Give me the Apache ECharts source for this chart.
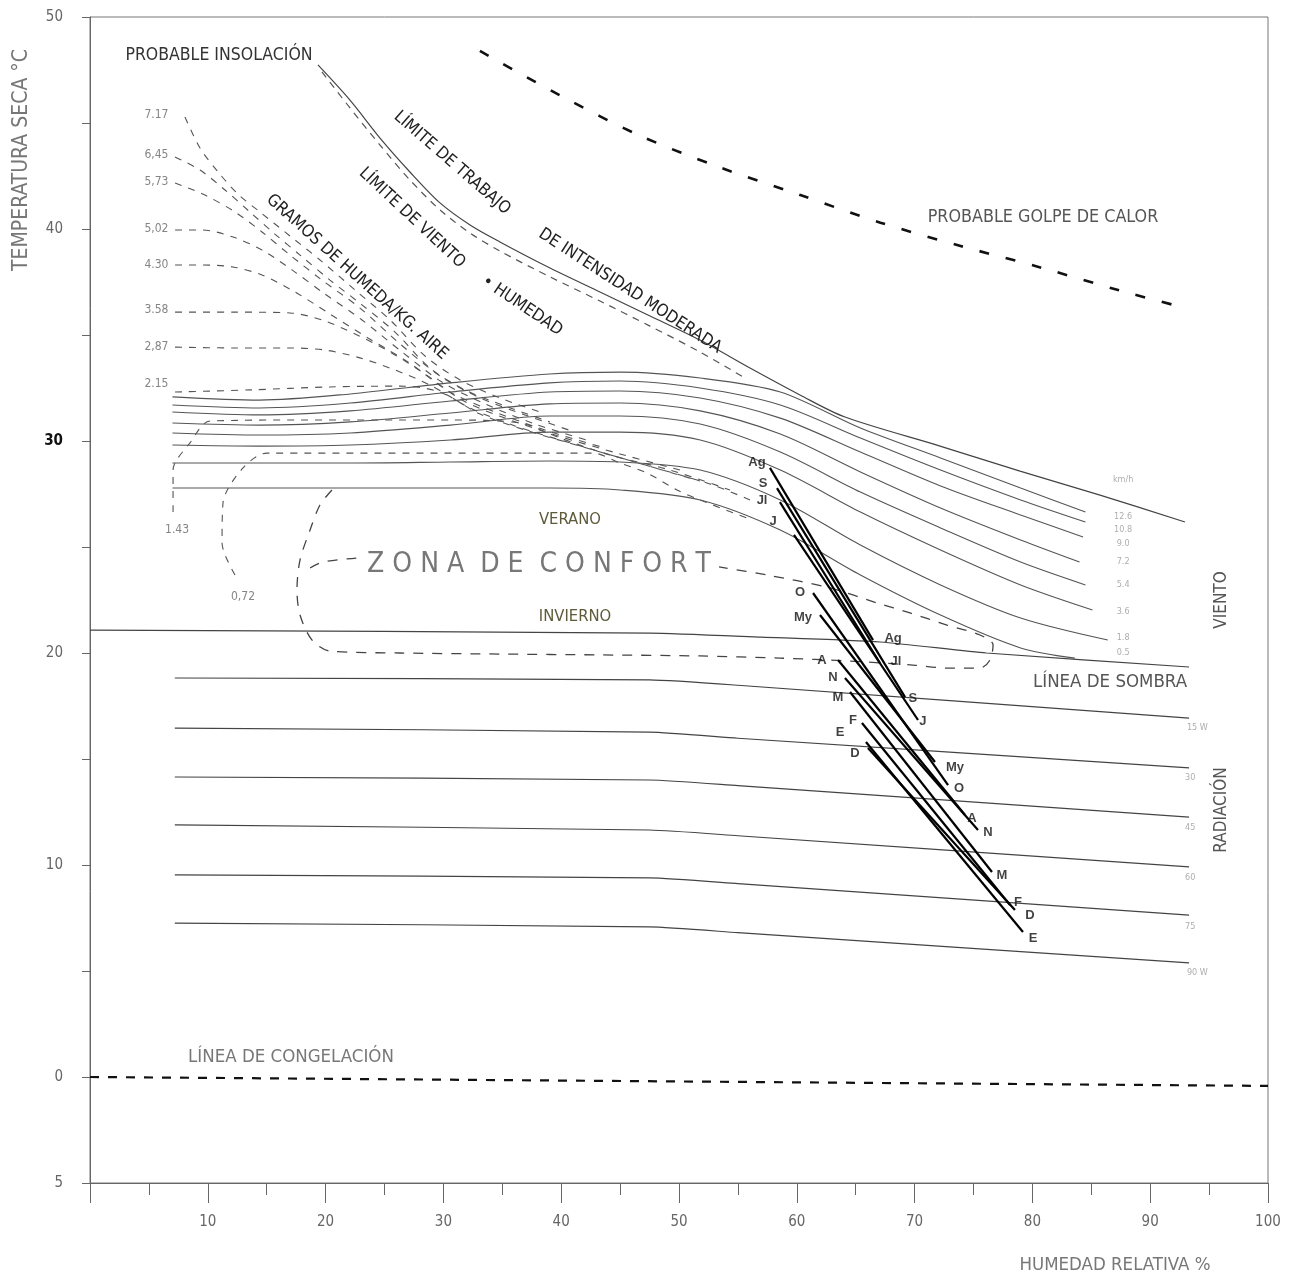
<!DOCTYPE html>
<html><head><meta charset="utf-8">
<script src="https://cdn.jsdelivr.net/npm/echarts/dist/echarts.min.js"></script>
<style>html,body{margin:0;padding:0;background:#fff}#c{width:1293px;height:1280px}</style>
</head><body><div id="c"></div>
<script>
// ---------- DATA (x = humedad relativa %, y = temperatura °C) ----------
const xTicks = [10,20,30,40,50,60,70,80,90,100];
const yTickLabels = {50:'50',40:'40',30:'30',20:'20',10:'10',0:'0','-5':'5'};

const golpeCalor = [[33.1,48.4],[39.9,46.3],[46.7,44.4],[53.5,42.9],[60.3,41.6],[67.1,40.3],[73.9,39.2],[80.6,38.2],[87.4,37.1],[92.8,36.3]];
const limiteTrabajo = [[19.35,47.74],[22.07,46.08],[24.62,44.29],[27.16,42.69],[29.71,41.23],[32.26,40.19],[34.80,39.39],[39.05,38.16],[43.29,37.03],[47.54,35.90],[51.78,34.76],[56.03,33.44],[60.27,32.17],[64.09,31.13],[72.16,29.76],[78.95,28.58],[85.74,27.45],[92.95,26.18]];
const limiteViento = [[19.69,47.41],[22.07,45.71],[24.62,43.96],[27.16,42.31],[29.71,40.90],[32.26,39.81],[34.80,38.96],[39.05,37.74],[43.29,36.60],[47.54,35.42],[51.78,34.20],[55.60,32.97]];

const windX = [7.0,14.4,22.1,30.6,39.0,45.0,51.8,58.6,65.4,72.2,79.0];
const windNames = ['12.6','10.8','9.0','7.2','5.4','3.6','1.8','0.5'];
const wind126 = [32.08,31.93,32.22,32.74,33.16,33.25,32.97,32.31,30.61,29.20,27.78];
const wind108 = [31.70,31.56,31.79,32.31,32.74,32.83,32.50,31.70,30.14,28.63,27.22];
const wind90  = [31.37,31.23,31.42,31.89,32.31,32.36,32.03,31.08,29.48,27.88,26.51];
const wind72  = [30.85,30.75,30.90,31.32,31.75,31.79,31.42,30.33,28.54,26.84,25.33];
const wind54  = [30.38,30.28,30.38,30.75,31.18,31.18,30.80,29.48,27.59,25.90,24.29];
const wind36  = [29.81,29.76,29.81,30.05,30.42,30.42,30.05,28.63,26.65,24.86,23.21];
const wind18  = [28.96,28.96,28.96,29.01,29.06,29.01,28.63,27.22,25.09,23.21,21.65];
const wind05  = [27.78,27.78,27.78,27.78,27.78,27.69,27.22,25.80,23.68,21.79,20.24];
const windEnds = [[84.5,26.65],[84.5,26.18],[84.3,25.47],[84.0,24.29],[84.5,23.21],[85.1,22.03],[86.4,20.61],[83.6,19.76]];
const windLabelY = [26.42,25.80,25.14,24.29,23.21,21.93,20.71,20.0];
const windUnitPos = [87.7,28.16];
const windLabelX = 87.7;

const sombra = [[0,21.08],[47.5,20.94],[57.0,20.75],[67.1,20.52],[76.1,20.0],[93.3,19.34]];
const radX = [7.2,47.5,55,93.3];
const rad15 = [18.82,18.73,18.48,16.93];
const rad30 = [16.46,16.27,15.98,14.58];
const rad45 = [14.15,14.01,13.74,12.26];
const rad60 = [11.89,11.65,11.38,9.91];
const rad75 = [9.53,9.39,9.12,7.64];
const rad90 = [7.26,7.08,6.81,5.38];
const radNames = ['15 W','30','45','60','75','90 W'];
const radLabelPos = [[94.0,16.46],[93.4,14.10],[93.4,11.75],[93.4,9.39],[93.4,7.08],[94.0,4.91]];

const congelacion = [[0,0],[100,-0.42]];

const gram717 = [[8.06,45.28],[9.34,43.82],[10.87,42.69],[12.56,41.65],[14.43,40.80],[16.98,39.67],[19.52,38.54],[22.50,37.12],[25.47,35.71],[28.44,34.01],[31.41,32.88],[34.80,32.03],[38.20,31.37]];
const gram645 = [[7.22,43.40],[9.34,42.78],[11.46,41.84],[13.58,40.80],[15.70,39.76],[17.83,38.77],[20.37,37.59],[23.09,36.42],[25.89,35.14],[28.86,33.44],[31.83,32.41],[35.23,31.65],[39.05,30.90]];
const gram573 = [[7.22,42.17],[9.76,41.60],[12.31,40.80],[14.60,39.86],[16.98,38.77],[19.69,37.59],[22.92,36.27],[26.32,34.58],[29.71,33.07],[33.11,32.03],[36.93,31.23],[41.17,30.42]];
const gram502 = [[7.22,39.95],[9.59,39.95],[12.14,39.62],[14.60,39.01],[17.15,38.07],[19.95,36.93],[23.09,35.71],[26.49,34.20],[29.88,32.78],[33.53,31.75],[37.78,30.80],[42.44,30.00]];
const gram430 = [[7.22,38.30],[9.59,38.30],[12.14,38.21],[14.60,37.83],[17.40,37.03],[20.37,35.99],[23.60,34.86],[26.99,33.73],[30.56,32.31],[34.38,31.37],[38.88,30.47],[43.72,29.67]];
const gram358 = [[7.22,36.08],[12.14,36.08],[16.98,36.04],[19.69,35.71],[22.50,35.05],[25.47,34.20],[28.44,33.16],[31.58,31.93],[35.23,31.08],[39.73,30.24],[44.99,29.39],[50.08,28.63]];
const gram287 = [[7.22,34.43],[12.14,34.39],[16.98,34.39],[19.95,34.29],[22.92,33.92],[25.89,33.35],[28.86,32.64],[32.26,31.56],[36.08,30.71],[40.75,29.91],[46.26,29.01],[51.78,28.11]];
const gram215 = [[7.22,32.31],[13.58,32.41],[20.37,32.55],[26.32,32.59],[29.71,32.31],[33.11,31.27],[36.93,30.52],[41.60,29.76],[47.11,28.87],[52.63,27.97],[56.03,27.22]];
const gram143 = [[7.05,26.65],[7.05,28.63],[8.49,29.91],[10.19,30.94],[17.83,30.99],[26.32,30.99],[30.56,30.99],[36.50,30.85],[39.90,30.14],[44.14,29.34],[49.24,28.63],[54.33,27.69]];
const gram072 = [[12.31,23.68],[11.21,25.19],[11.29,27.08],[12.99,28.73],[15.03,29.43],[39.05,29.43],[42.70,29.43],[44.99,28.96],[47.28,28.49],[49.83,27.69],[51.78,27.22],[55.77,26.37]];
const gramNames = ['7.17','6,45','5,73','5,02','4.30','3.58','2,87','2.15'];
const gramLabelY = [45.38,43.49,42.22,40.0,38.30,36.18,34.43,32.69];
const gramLabelX = 6.96;
const gramLowNames = ['1.43','0,72'];
const gramLowPos = [[7.39,25.80],[12.99,22.64]];

const confortLoop = [[20.54,27.69],[19.52,26.98],[18.68,25.80],[17.83,24.39],[17.57,22.97],[17.83,21.79],[18.85,20.61],[20.37,20.09],[26.32,20.00],[34.80,19.95],[43.29,19.91],[51.78,19.86],[58.57,19.76],[64.52,19.62],[69.86,19.43],[72.75,19.29],[75.55,19.29],[76.40,19.67],[76.66,20.38],[75.55,20.85],[72.75,21.32],[69.61,21.89],[66.81,22.36],[62.82,23.07],[57.47,23.68],[53.40,24.06]];
const confortStub = [[18.68,24.01],[19.78,24.29],[22.60,24.48]];

const monthNames = ['E','F','M','A','My','J','Jl','Ag','S','O','N','D'];
const monthStart = [[65.87,15.80],[65.53,16.70],[64.52,18.16],[63.50,19.67],[61.97,21.79],[59.76,25.57],[58.57,27.12],[57.72,28.73],[58.32,27.78],[61.38,22.83],[64.09,18.82],[66.04,15.52]];
const monthEnd   = [[79.20,6.84],[78.10,8.11],[76.57,9.67],[74.28,12.36],[71.73,14.86],[70.29,16.84],[67.06,19.53],[66.47,20.61],[69.19,17.92],[72.84,13.77],[75.38,11.65],[78.52,7.88]];
const monthTopLab = [[63.67,16.27],[64.77,16.84],[63.50,17.92],[62.14,19.67],[60.53,21.70],[57.98,26.23],[57.05,27.22],[56.62,29.01],[57.13,28.02],[60.27,22.88],[63.07,18.87],[64.94,15.28]];
const monthBotLab = [[80.05,6.56],[78.78,8.25],[77.42,9.53],[74.87,12.22],[73.43,14.58],[70.71,16.75],[68.42,19.62],[68.17,20.71],[69.86,17.88],[73.77,13.63],[76.23,11.56],[79.80,7.64]];

// ---------- BUILD ----------
const FONT = '"Liberation Sans Narrow","DejaVu Sans Condensed","Arial Narrow",sans-serif';
const BOLDF = '"Liberation Sans","Arial",sans-serif';
const GRAY = '#555';

function ln(data, color, width, type, smooth, z) {
  return {type:'line', data, symbol:'none', showSymbol:false, smooth: smooth||false, silent:true, animation:false,
          lineStyle:{color, width, type: type||'solid'}, z: z||2};
}
function labs(items, o) {
  return {type:'scatter', symbolSize:1, itemStyle:{color:'rgba(0,0,0,0)'}, silent:true, animation:false, z:6,
    data: items.map(([name,x,y]) => ({name, value:[x,y]})),
    label:{show:true, formatter:'{b}', position:o.position||'inside', distance:o.distance||3,
           color:o.color||'#777', fontSize:o.size||10, fontFamily:o.family||FONT, fontWeight:o.weight||'normal'}};
}

const series = [];
series.push(ln(golpeCalor, '#111', 2.6, [10,17], 0.3, 3));
series.push(ln(limiteTrabajo, '#444', 1.2, 'solid', 0.3));
series.push(ln(limiteViento, '#555', 1.2, [7,6], 0.3));
[wind126,wind108,wind90,wind72,wind54,wind36,wind18,wind05].forEach((ys,i) => {
  series.push(ln(windX.map((x,j)=>[x,ys[j]]).concat([windEnds[i]]), GRAY, 1.1, 'solid', 0.3));
});
series.push(ln(sombra, '#444', 1.2, 'solid', 0.2));
[rad15,rad30,rad45,rad60,rad75,rad90].forEach(ys => {
  series.push(ln(radX.map((x,j)=>[x,ys[j]]), '#444', 1.2, 'solid', 0.2));
});
series.push(ln(congelacion, '#111', 2.2, [9,9], false, 3));
[gram717,gram645,gram573,gram502,gram430,gram358,gram287,gram215,gram143,gram072].forEach(g => {
  series.push(ln(g, '#555', 1.1, [7,7], 0.3));
});
series.push(ln(confortLoop, '#444', 1.3, [10,9], 0.3));
series.push(ln(confortStub, '#444', 1.3, [10,9], 0.3));
monthNames.forEach((m,i) => series.push(ln([monthStart[i], monthEnd[i]], '#000', 2.2, 'solid', false, 4)));

series.push(labs(monthNames.map((m,i)=>[m, monthTopLab[i][0], monthTopLab[i][1]]), {color:'#111', size:13, family:BOLDF, weight:'bold'}));
series.push(labs(monthNames.map((m,i)=>[m, monthBotLab[i][0], monthBotLab[i][1]]), {color:'#111', size:13, family:BOLDF, weight:'bold'}));
series.push(labs(gramNames.map((n,i)=>[n, gramLabelX, gramLabelY[i]]), {position:'left', color:'#666', size:12}));
series.push(labs(gramLowNames.map((n,i)=>[n, gramLowPos[i][0], gramLowPos[i][1]]), {color:'#666', size:12}));
series.push(labs([['km/h', windUnitPos[0], windUnitPos[1]]].concat(windNames.map((n,i)=>[n, windLabelX, windLabelY[i]])), {color:'#999', size:9}));
series.push(labs(radNames.map((n,i)=>[n, radLabelPos[i][0], radLabelPos[i][1]]), {color:'#999', size:9}));

const texts = [
  {t:'PROBABLE INSOLACIÓN', x:219, y:55, s:17.5, c:'#333'},
  {t:'PROBABLE GOLPE DE CALOR', x:1043, y:217, s:17.8, c:'#555'},
  {t:'LÍMITE DE TRABAJO', x:452, y:163, r:-41, s:17, c:'#222'},
  {t:'DE INTENSIDAD MODERADA', x:630, y:291, r:-33, s:17, c:'#222'},
  {t:'LÍMITE DE VIENTO', x:412, y:218, r:-43, s:17, c:'#222'},
  {t:'• HUMEDAD', x:522, y:306, r:-34, s:17, c:'#222'},
  {t:'GRAMOS DE HUMEDA/KG. AIRE', x:357, y:277, r:-42, s:17, c:'#222'},
  {t:'VERANO', x:570, y:520, s:16.5, c:'#5e5a3a'},
  {t:'Z O N A  D E  C O N F O R T', x:539, y:565, s:28, c:'#777'},
  {t:'INVIERNO', x:575, y:617, s:16.5, c:'#5e5a3a'},
  {t:'VIENTO', x:1222, y:600, r:90, s:17, c:'#555'},
  {t:'LÍNEA DE SOMBRA', x:1110, y:682, s:18.5, c:'#555'},
  {t:'RADIACIÓN', x:1222, y:810, r:90, s:17, c:'#555'},
  {t:'LÍNEA DE CONGELACIÓN', x:291, y:1057, s:18.5, c:'#777'},
  {t:'TEMPERATURA SECA °C', x:22, y:160, r:90, s:21, c:'#777'},
  {t:'HUMEDAD RELATIVA %', x:1115, y:1265, s:18.5, c:'#777'}
];

const chart = echarts.init(document.getElementById('c'), null, {renderer:'canvas'});
chart.setOption({
  backgroundColor:'#fff',
  animation:false,
  grid:{left:90, right:25, top:17, bottom:97, show:true, borderColor:'#777', borderWidth:1, containLabel:false, outerBoundsMode:'none'},
  xAxis:{type:'value', min:0, max:100, interval:10,
    axisLine:{show:true, onZero:false, lineStyle:{color:'#666', width:1}},
    axisTick:{show:true, length:20, lineStyle:{color:'#666'}},
    minorTick:{show:true, splitNumber:2, length:12, lineStyle:{color:'#666'}},
    splitLine:{show:false}, minorSplitLine:{show:false},
    axisLabel:{margin:32, color:'#666', fontSize:15, fontFamily:FONT,
      formatter: v => xTicks.includes(v) ? String(v) : ''}},
  yAxis:{type:'value', min:-5, max:50, interval:5,
    axisLine:{show:true, onZero:false, lineStyle:{color:'#666', width:1}},
    axisTick:{show:true, length:8, lineStyle:{color:'#666'}},
    splitLine:{show:false},
    axisLabel:{margin:27, color:'#666', fontSize:15, fontFamily:FONT,
      formatter: v => { const s = yTickLabels[String(v)]; return s === undefined ? '' : (v === 30 ? '{b|' + s + '}' : s); },
      rich:{b:{fontWeight:'bold', color:'#111', fontSize:15, fontFamily:FONT}}}},
  series,
  graphic: texts.map(t => ({type:'text', x:t.x, y:t.y, rotation:(t.r||0)*Math.PI/180, silent:true, z:100,
    style:{text:t.t, fill:t.c, font:'normal ' + t.s + 'px ' + FONT, textAlign:'center', textVerticalAlign:'middle', align:'center', verticalAlign:'middle'}}))
});
</script></body></html>
